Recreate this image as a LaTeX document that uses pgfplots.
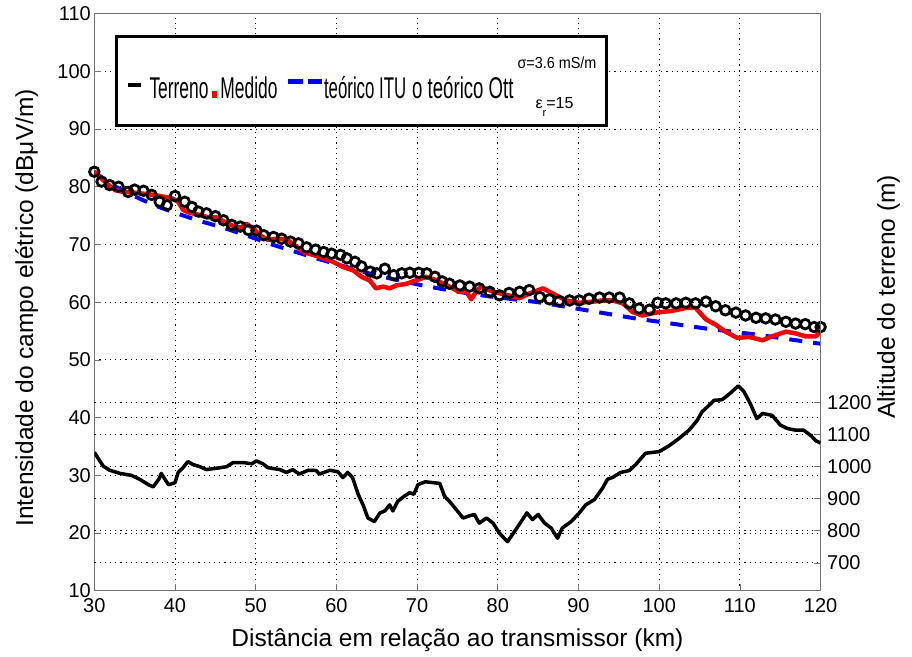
\documentclass[border=0pt]{standalone}
\usepackage{fontspec}
\setmainfont{Liberation Sans}
\usepackage{graphicx}
\usepackage{pgfplots}
\pgfplotsset{compat=1.18}
\definecolor{axgray}{gray}{0.45}
\pgfplotsset{
  mystyle/.style={
    scale only axis, width=726.3pt, height=577.2pt,
    xmin=30, xmax=120,
    tick align=inside, major tick length=7pt,
    tick style={axgray, line width=0.8pt},
    axis line style={axgray, line width=1pt},
    grid style={black, line width=0.9pt, dash pattern=on 1.2pt off 4pt},
    ticklabel style={font=\fontsize{20}{24}\selectfont},
    /pgf/number format/assume math mode=true,
    /pgf/number format/1000 sep={},
    label style={font=\fontsize{24.5}{28}\selectfont},
  }
}
\begin{document}
\begin{tikzpicture}
\begin{axis}[mystyle, name=main,
  ymin=10, ymax=110,
  xtick={30,40,...,120}, ytick={10,20,...,110},
  xtick pos=left, ytick pos=left,
  grid=major,
  xlabel={Distância em relação ao transmissor (km)},
  ylabel={Intensidade do campo elétrico (dBμV/m)},
  xlabel style={at={(axis description cs:0.5,-0.097)}, anchor=base},
  ylabel style={at={(axis description cs:-0.0844,0.49)}, anchor=base},
  xticklabel style={yshift=-4pt},
  legend columns=-1,
  legend style={at={(axis description cs:0.0285,0.96206)}, anchor=north west,
    draw=black, line width=3pt, fill=white,
    inner xsep=9pt, inner ysep=0pt,
    font=\fontsize{30}{32}\selectfont,
    cells={anchor=base west},
    nodes={inner sep=0pt, text depth=},
    column sep=0pt},
]
\addlegendimage{legend image code/.code={
  \path[draw=none, fill=none] (0,-26.5pt) rectangle (22pt,62pt);
  \draw[black, line width=4pt] (0,14pt) -- (13pt,14pt);}}
\addlegendentry{\scalebox{0.58}[1]{Terreno}}
\addlegendimage{legend image code/.code={
  \path[draw=none, fill=none] (0,0) rectangle (12pt,0);
  \fill[red, draw=none] (4pt,1pt) rectangle (9pt,8pt);}}
\addlegendentry{\scalebox{0.58}[1]{Medido}}
\addlegendimage{legend image code/.code={
  \path[draw=none, fill=none] (0,0) rectangle (45pt,0);
  \draw[blue, line width=5pt] (10pt,17pt) -- (25pt,17pt);
  \draw[blue, line width=5pt] (30pt,17pt) -- (44pt,17pt);}}
\addlegendentry{\scalebox{0.56}[1]{teórico ITU}}
\addlegendimage{legend image code/.code={
  \path[draw=none, fill=none] (0,0) rectangle (6pt,0);}}
\addlegendentry{\scalebox{0.62}[1]{o teórico Ott}\hspace{4pt}\makebox[80pt][l]{\fontsize{16}{17}\selectfont\rlap{\raisebox{30pt}{\scalebox{0.9}[1]{σ=3.6 mS/m}}}\hspace{18pt}\raisebox{-10pt}{ε\raisebox{-8pt}{\fontsize{11}{11}\selectfont r}=15}}}

% teórico ITU
\addplot[forget plot, blue, line width=4pt, dash pattern=on 13pt off 11pt] coordinates {
(30,82.6) (32,80.5) (34,79.0) (36,77.7) (38,76.5) (40,75.5) (43,74.1) (46,72.9)
(49,71.5) (52,70.0) (55,68.7) (58,67.4) (61,66.2) (64,65.0) (67,64.0) (70,63.1)
(73,62.3) (76,61.6) (79,61.0) (82,60.5) (85,60.0) (88,59.3) (91,58.6) (94,57.9)
(97,57.2) (100,56.6) (103,56.0) (106,55.4) (109,54.9) (112,54.4) (115,53.8)
(118,53.2) (120,52.8)};
% teórico Ott
\addplot[forget plot, only marks, mark=o, mark size=4.8pt, mark options={black, line width=2.8pt}] coordinates {
(30,82.6) (30.9,80.9) (31.9,80.3) (33.0,80.0) (34.2,79.1) (35.0,79.5) (36.1,79.3)
(37.1,78.6) (38.1,77.4) (39.0,76.8) (40.0,78.4) (41.2,77.4) (42.1,76.5) (42.9,75.7)
(43.9,75.4) (45.0,74.9) (46.0,74.2) (47.0,73.4) (48.1,73.1) (49.1,72.5) (50.1,72.4)
(51.0,71.6) (52.2,71.3) (53.2,71.0) (54.3,70.5) (55.3,70.2) (56.3,69.5) (57.4,69.1)
(58.4,68.7) (59.4,68.4) (60.5,68.2) (61.3,67.6) (62.3,67.0) (63.1,66.2) (64.2,65.3)
(65.0,65.0) (66.0,65.8) (67.1,64.7) (68.1,65.0) (69.1,65.1) (70.2,65.1) (71.2,65.0)
(72.2,64.4) (73.1,63.6) (74.0,63.2) (75.3,62.9) (76.5,62.7) (77.7,62.4) (79.0,61.8)
(80.2,61.2) (81.4,61.6) (82.7,61.8) (83.9,62.1) (85.2,60.9) (86.4,60.5) (87.6,60.2)
(88.9,60.3) (90.1,60.3) (91.3,60.6) (92.6,60.8) (93.8,60.8) (95.1,60.8) (96.3,59.8)
(97.5,58.9) (98.8,58.7) (99.8,59.9) (100.8,59.8) (102.1,59.8) (103.3,59.9) (104.5,59.8)
(105.8,60.1) (107.0,59.3) (108.2,58.6) (109.5,58.2) (110.7,57.7) (112.0,57.3)
(113.2,57.2) (114.4,57.0) (115.7,56.6) (116.9,56.3) (118.1,56.2) (119.2,55.7) (120.0,55.7)};
% Medido
\addplot[forget plot, red, line width=4.5pt, line join=round] coordinates {
(30,82.6) (30.7,81.7) (31.5,80.6) (32.6,79.4) (33.6,79.1) (34.8,79.0) (36.1,78.8)
(37.3,78.6) (38.5,78.3) (39.6,78.0) (40.4,77.4) (41.0,76.0) (41.8,75.5) (43.1,75.1)
(44.1,74.7) (45.1,74.7) (46.2,73.9) (47.2,73.2) (48.2,72.9) (48.8,73.6) (49.7,72.8)
(50.5,71.6) (51.5,70.8) (52.6,71.0) (53.8,70.9) (54.8,69.9) (55.9,68.7) (57.1,68.2)
(58.4,67.6) (59.6,67.0) (60.8,66.1) (62.1,65.5) (63.1,64.4) (64.1,63.8) (64.9,62.4)
(65.8,62.7) (66.6,62.4) (67.4,62.9) (68.7,63.2) (69.9,63.8) (71.1,64.4) (72.4,63.8)
(73.6,63.0) (74.4,62.4) (75.2,61.8) (76.1,61.8) (76.7,60.5) (77.3,61.8) (77.9,62.7)
(79.4,61.8) (81.0,61.3) (82.7,60.7) (83.9,61.5) (85.6,62.4) (86.8,61.5) (88.5,60.3)
(90.1,59.9) (91.8,60.1) (93.0,60.3) (94.2,60.3) (95.5,59.8) (96.7,58.3) (97.9,57.7)
(99.6,58.2) (101.6,58.5) (103.3,59.0) (104.5,59.0) (105.8,57.0) (107.0,56.1)
(108.2,54.9) (109.7,53.8) (111.1,54.0) (112.8,53.4) (114.0,54.1) (115.7,54.9)
(116.9,54.6) (118.1,54.1) (119.4,54.1) (120.0,54.9)};
\end{axis}

\begin{axis}[mystyle,
  ymin=613, ymax=2413,
  axis x line=none, axis y line*=right,
  ytick={700,800,...,1200},
  ymajorgrids,
  ylabel={Altitude do terreno (m)},
  ylabel style={at={(axis description cs:1.1024,0.509)}, anchor=base, rotate=0},
  yticklabel style={xshift=3pt},
]
\addplot[black, line width=3.5pt, line join=round] coordinates {
(30,1045) (31.1,1002) (31.9,989) (33.2,979) (34.6,973) (35.6,961) (36.7,944)
(37.3,937) (38.0,961) (38.3,979) (38.9,955) (39.2,944) (40.0,950) (40.4,982)
(41.0,997) (41.6,1016) (42.2,1007) (43.1,1000) (43.9,991) (45.1,995) (46.4,1000)
(47.2,1013) (48.5,1013) (49.5,1009) (50.1,1018) (50.9,1009) (51.5,997) (53.0,991)
(53.8,982) (54.6,991) (55.4,977) (56.5,989) (57.5,988) (57.9,977) (59.2,989)
(60.2,984) (60.8,966) (61.4,982) (62.0,966) (62.7,914) (63.3,881) (63.9,840)
(64.7,829) (65.4,856) (66.0,862) (66.6,881) (67.0,862) (67.6,892) (68.4,908)
(69.1,919) (69.6,914) (70.1,944) (71.0,953) (72.8,948) (73.4,908) (74.0,892)
(74.7,871) (75.7,840) (76.5,847) (77.1,851) (77.7,824) (78.6,840) (79.4,824)
(80.2,793) (81.2,766) (82.1,799) (82.9,829) (83.6,856) (84.3,835) (85.0,851)
(85.8,824) (86.6,809) (87.4,777) (88.0,809) (89.1,829) (90.1,856) (90.9,881)
(92.0,898) (93.0,934) (93.6,961) (94.2,966) (95.2,982) (96.3,988) (97.1,1007)
(98.3,1042) (100.0,1047) (101.2,1065) (102.4,1087) (103.7,1114) (104.7,1144)
(105.3,1171) (105.7,1180) (106.8,1207) (107.8,1209) (108.8,1229) (109.8,1252)
(110.5,1234) (111.3,1196) (112.1,1150) (112.8,1166) (114.0,1160) (115.0,1130)
(115.9,1119) (116.9,1114) (117.9,1114) (118.8,1097) (119.4,1081) (120.0,1074)};
\end{axis}
\path (main.south west) ++(-94.3pt,-65.2pt) coordinate (bl);
\path (main.north east) ++(91.4pt,13.6pt) coordinate (tr);
\pgfresetboundingbox
\path (bl) rectangle (tr);
\end{tikzpicture}
\end{document}
